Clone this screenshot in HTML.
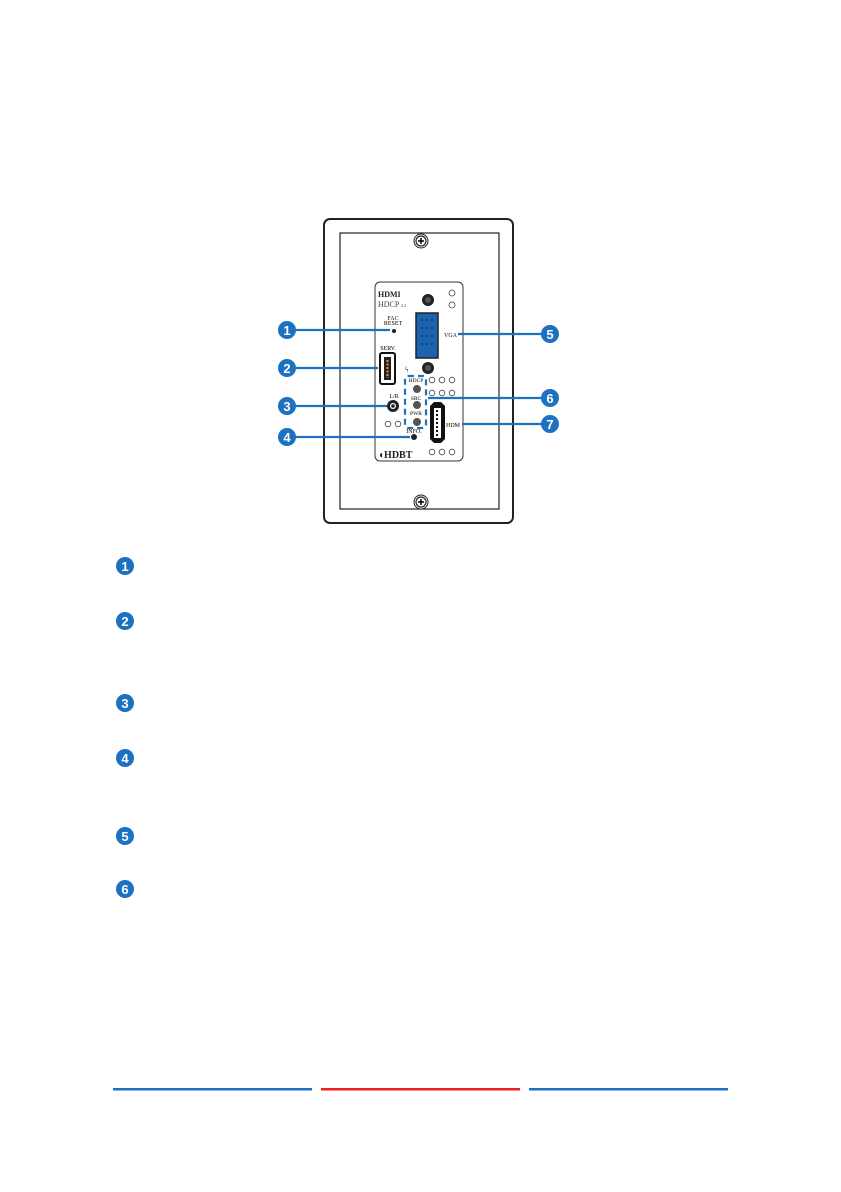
<!DOCTYPE html>
<html><head><meta charset="utf-8"><style>
html,body{margin:0;padding:0;background:#fff}
svg{display:block}
text{font-family:"Liberation Serif",serif}
.b text{font-family:"Liberation Sans",sans-serif;font-weight:bold;fill:#fff;font-size:13px}
</style></head><body>
<svg width="841" height="1192" viewBox="0 0 841 1192" xmlns="http://www.w3.org/2000/svg">
<defs>
<g id="screw"><circle r="7" fill="#fff" stroke="#222" stroke-width="1"/><circle r="5" fill="none" stroke="#222" stroke-width="1.2"/><path d="M-3 0H3M0 -3V3" stroke="#000" stroke-width="1.5"/></g>
</defs>
<!-- plate -->
<rect x="324" y="219" width="189" height="304" rx="6" fill="#fff" stroke="#222" stroke-width="2"/>
<rect x="340" y="233" width="159" height="276" fill="#fff" stroke="#222" stroke-width="1.2"/>
<use href="#screw" x="421" y="241"/>
<use href="#screw" x="421" y="502"/>
<!-- panel -->
<rect x="375" y="282" width="88" height="179" rx="5" fill="#fff" stroke="#333" stroke-width="1"/>
<text x="378" y="297" font-family="Liberation Sans" font-weight="bold" font-size="8" fill="#222">HDMI</text>
<text x="378" y="307" font-family="Liberation Sans" font-size="8" fill="#444">HDCP</text>
<text x="401" y="307" font-size="4" fill="#444">2.2</text>
<circle cx="428" cy="300" r="6" fill="#222"/><circle cx="428" cy="300" r="3" fill="#555"/>
<circle cx="452" cy="293" r="3" fill="none" stroke="#444" stroke-width=".8"/>
<circle cx="452" cy="305" r="3" fill="none" stroke="#444" stroke-width=".8"/>
<text x="393" y="320" font-size="6" text-anchor="middle">FAC</text>
<text x="393" y="325" font-size="6" text-anchor="middle">RESET</text>
<circle cx="394" cy="331" r="2" fill="#222"/>
<!-- VGA -->
<path d="M416 313h22v45h-22z" fill="#1c63b0" stroke="#222" stroke-width="1.5"/>
<g fill="#0a2c55"><circle cx="422" cy="320" r=".9"/><circle cx="427" cy="320" r=".9"/><circle cx="432" cy="320" r=".9"/><circle cx="422" cy="328" r=".9"/><circle cx="427" cy="328" r=".9"/><circle cx="432" cy="328" r=".9"/><circle cx="422" cy="336" r=".9"/><circle cx="427" cy="336" r=".9"/><circle cx="432" cy="336" r=".9"/><circle cx="422" cy="344" r=".9"/><circle cx="427" cy="344" r=".9"/><circle cx="432" cy="344" r=".9"/></g>
<text x="444" y="337" font-size="6">VGA</text>
<circle cx="428" cy="368" r="6" fill="#222"/><circle cx="428" cy="368" r="3" fill="#555"/>
<text x="388" y="350" font-size="6" text-anchor="middle">SERV.</text>
<rect x="380" y="353" width="15" height="31" rx="2" fill="#fff" stroke="#111" stroke-width="2"/>
<rect x="384" y="357" width="7" height="23" fill="#222"/>
<path d="M387.5 360v18" stroke="#f39a1e" stroke-width="2" stroke-dasharray="2 1.5"/>
<text x="405" y="372" font-size="8" font-family="DejaVu Sans">ϟ</text>
<g fill="none" stroke="#444" stroke-width=".8"><circle cx="432" cy="380" r="2.8"/><circle cx="442" cy="380" r="2.8"/><circle cx="452" cy="380" r="2.8"/><circle cx="432" cy="393" r="2.8"/><circle cx="442" cy="393" r="2.8"/><circle cx="452" cy="393" r="2.8"/><circle cx="388" cy="424" r="2.8"/><circle cx="398" cy="424" r="2.8"/><circle cx="432" cy="452" r="2.8"/><circle cx="442" cy="452" r="2.8"/><circle cx="452" cy="452" r="2.8"/></g>
<rect x="405" y="376" width="21" height="52" fill="none" stroke="#1c72c0" stroke-width="2.2" stroke-dasharray="6 4" rx="3"/>
<text x="416" y="382" font-size="5.5" text-anchor="middle">HDCP</text>
<circle cx="417" cy="389" r="4" fill="#555"/>
<text x="416" y="400" font-size="5.5" text-anchor="middle">SRC</text>
<circle cx="417" cy="405" r="4" fill="#555"/>
<text x="416" y="415" font-size="5.5" text-anchor="middle">PWR</text>
<circle cx="417" cy="422" r="4" fill="#555"/>
<text x="394" y="398" font-size="6" text-anchor="middle">L/R</text>
<circle cx="393" cy="406" r="6" fill="#222"/><circle cx="393" cy="406" r="3" fill="#fff"/><circle cx="393" cy="406" r="1.8" fill="#222"/>
<text x="414" y="433" font-size="6" text-anchor="middle">INFO.</text>
<circle cx="414" cy="437" r="3" fill="#222"/>
<!-- HDMI port -->
<path d="M430 406l4-4h7l4 4v33l-4 4h-7l-4-4z" fill="#111"/>
<path d="M434 408h7v30h-7z" fill="#fff"/>
<path d="M437 410v26" stroke="#111" stroke-width="2" stroke-dasharray="2 2"/>
<text x="446" y="427" font-size="6">HDM</text>
<text x="378" y="458" font-family="Liberation Sans" font-weight="bold" font-size="10" fill="#222">◖HDBT</text>
<!-- leader lines -->
<g stroke="#1c72c0" stroke-width="2.2" fill="none">
<path d="M287 330H390"/><path d="M287 368H378"/><path d="M287 406H387"/><path d="M287 437H410"/>
<path d="M458 334H550"/><path d="M428 398H550"/><path d="M462 424H550"/>
</g>
<g class="b" fill="#1c72c0">
<circle cx="287" cy="330" r="9"/><circle cx="287" cy="368" r="9"/><circle cx="287" cy="406" r="9"/><circle cx="287" cy="437" r="9"/>
<circle cx="550" cy="334" r="9"/><circle cx="550" cy="398" r="9"/><circle cx="550" cy="424" r="9"/>
<circle cx="125" cy="566" r="9"/><circle cx="125" cy="621" r="9"/><circle cx="125" cy="703" r="9"/><circle cx="125" cy="758" r="9"/><circle cx="125" cy="836" r="9"/><circle cx="125" cy="889" r="9"/>
<text x="287" y="335" text-anchor="middle">1</text><text x="287" y="373" text-anchor="middle">2</text><text x="287" y="411" text-anchor="middle">3</text><text x="287" y="442" text-anchor="middle">4</text>
<text x="550" y="339" text-anchor="middle">5</text><text x="550" y="403" text-anchor="middle">6</text><text x="550" y="429" text-anchor="middle">7</text>
<text x="125" y="571" text-anchor="middle">1</text><text x="125" y="626" text-anchor="middle">2</text><text x="125" y="708" text-anchor="middle">3</text><text x="125" y="763" text-anchor="middle">4</text><text x="125" y="841" text-anchor="middle">5</text><text x="125" y="894" text-anchor="middle">6</text>
</g>
<!-- footer lines -->
<rect x="113" y="1088" width="199" height="2.5" fill="#1c72c0"/>
<rect x="321" y="1088" width="199" height="2.5" fill="#ee1c25"/>
<rect x="529" y="1088" width="199" height="2.5" fill="#1c72c0"/>
</svg>
</body></html>
